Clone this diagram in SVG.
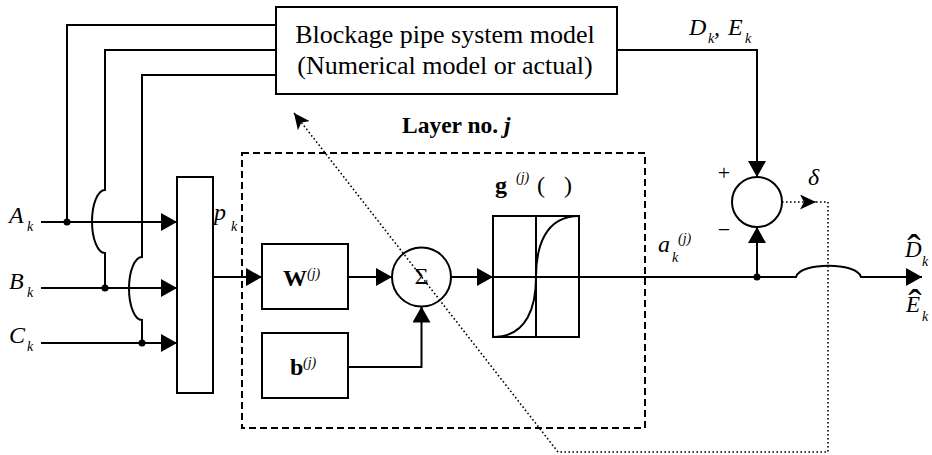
<svg xmlns="http://www.w3.org/2000/svg" width="932" height="455" viewBox="0 0 932 455">
<style>
.ln{fill:none;stroke:#000;stroke-width:2}
.box{fill:#fff;stroke:#000;stroke-width:2}
.dash{fill:none;stroke:#000;stroke-width:2;stroke-dasharray:7,4}
.dot{fill:none;stroke:#000;stroke-width:1.6;stroke-dasharray:1.6,2.4}
text{font-family:"Liberation Serif","DejaVu Serif",serif;fill:#000}
.t{font-size:26px}
.v{font-size:24px;font-style:italic}
.s{font-size:14px;font-style:italic}
.b{font-size:24px;font-weight:bold}
.hat{font-size:40px;font-style:normal}
</style>
<defs>
<marker id="ah" markerUnits="userSpaceOnUse" markerWidth="16" markerHeight="18" refX="16" refY="9" orient="auto" viewBox="0 0 16 18"><path d="M0,0 L16,9 L0,18 z" fill="#000"/></marker>
<marker id="ad" markerUnits="userSpaceOnUse" markerWidth="16" markerHeight="15" refX="16" refY="7.5" orient="auto" viewBox="0 0 16 15"><path d="M0,0 L16,7.5 L0,15 L4,7.5 z" fill="#000"/></marker>
</defs>

<g id="model">
<rect class="box" x="276" y="7" width="341" height="87"/>
<text class="t" x="445" y="43" text-anchor="middle">Blockage pipe system model</text>
<text class="t" x="445" y="74" text-anchor="middle">(Numerical model or actual)</text>
</g>

<g id="layer">
<rect class="dash" x="242" y="153" width="403" height="275"/>
<text x="402" y="133" style="font-size:23.5px;font-weight:bold">Layer no. <tspan style="font-style:italic">j</tspan></text>
</g>

<g id="mux">
<rect class="box" x="177" y="177" width="36" height="216"/>
</g>

<g id="W">
<rect class="box" x="262" y="244" width="86" height="65"/>
<text class="b" x="283" y="286">W<tspan class="s" style="font-weight:normal" x="307" y="278">(j)</tspan></text>
</g>

<g id="b">
<rect class="box" x="262" y="333" width="86" height="65"/>
<text class="b" x="290" y="375">b<tspan class="s" style="font-weight:normal" x="303" y="367">(j)</tspan></text>
</g>

<g id="sum">
<circle class="box" cx="421.5" cy="277" r="29.5"/>
<text x="421.5" y="284" text-anchor="middle" style="font-size:24px">Σ</text>
</g>

<g id="g">
<rect class="box" x="493" y="216" width="86" height="121"/>
<path class="ln" d="M536,216 V337 M493,277 H579 M493,337 C528,337 536,305 536,277 C536,249 544,216 579,216"/>
<text class="b" x="495" y="193">g<tspan class="s" style="font-weight:normal" x="516" y="182">(j)</tspan><tspan style="font-weight:normal" x="537" y="193">(</tspan><tspan style="font-weight:normal" x="564" y="193">)</tspan></text>
</g>

<g id="err">
<circle class="box" cx="757" cy="202" r="25"/>
<text x="724" y="180" text-anchor="middle" style="font-size:22px">+</text>
<text x="724" y="237" text-anchor="middle" style="font-size:22px">−</text>
</g>

<g id="labels">
<text class="v" x="9" y="223">A<tspan class="s" x="27" y="231">k</tspan></text>
<text class="v" x="9" y="289">B<tspan class="s" x="27" y="297">k</tspan></text>
<text class="v" x="9" y="343">C<tspan class="s" x="27" y="351">k</tspan></text>
<text class="v" x="214" y="220">p<tspan class="s" x="231" y="231">k</tspan></text>
<text class="v" x="689" y="35">D<tspan class="s" x="708" y="43">k</tspan><tspan x="714" y="35">,</tspan><tspan x="728" y="35">E</tspan><tspan class="s" x="745" y="43">k</tspan></text>
<text class="v" x="808" y="185">δ</text>
<text class="v" x="658" y="252">a<tspan class="s" x="672" y="262">k</tspan><tspan class="s" x="678" y="243">(j)</tspan></text>
<text class="v" x="905" y="257" style="font-size:23px">D<tspan class="s" x="922" y="266">k</tspan><tspan class="hat" x="914" y="262" text-anchor="middle">ˆ</tspan></text>
<text class="v" x="906" y="312" style="font-size:23px">E<tspan class="s" x="922" y="321">k</tspan><tspan class="hat" x="915" y="317" text-anchor="middle">ˆ</tspan></text>
</g>

<g id="connectors">
<path class="ln" d="M276,25 H67 V222"/>
<path class="ln" d="M276,50 H105 V190 A13,31.5 0 0 0 105,253 V288"/>
<path class="ln" d="M276,75 H142 V257 A13,31.5 0 0 0 142,320 V343"/>
<path class="ln" d="M41,222 H177" marker-end="url(#ah)"/>
<path class="ln" d="M41,288 H177" marker-end="url(#ah)"/>
<path class="ln" d="M41,343 H177" marker-end="url(#ah)"/>
<circle cx="67" cy="222" r="3.5"/>
<circle cx="105" cy="288" r="3.5"/>
<circle cx="142" cy="343" r="3.5"/>
<path class="ln" d="M213,277 H262" marker-end="url(#ah)"/>
<path class="ln" d="M348,277 H392" marker-end="url(#ah)"/>
<path class="ln" d="M348,367 H421.5 V306.5" marker-end="url(#ah)"/>
<path class="ln" d="M451,277 H493" marker-end="url(#ah)"/>
<path class="ln" d="M579,277 H796 C800,262 857,262 861,277 H922" marker-end="url(#ah)"/>
<circle cx="757" cy="277" r="3.5"/>
<path class="ln" d="M757,277 V227" marker-end="url(#ah)"/>
<path class="ln" d="M617,50 H757 V177" marker-end="url(#ah)"/>
<path class="dot" d="M782,202 H816" marker-end="url(#ad)"/>
<path class="dot" d="M816,202 H828 V452 H558 L294,113" marker-end="url(#ad)"/>
</g>
</svg>
